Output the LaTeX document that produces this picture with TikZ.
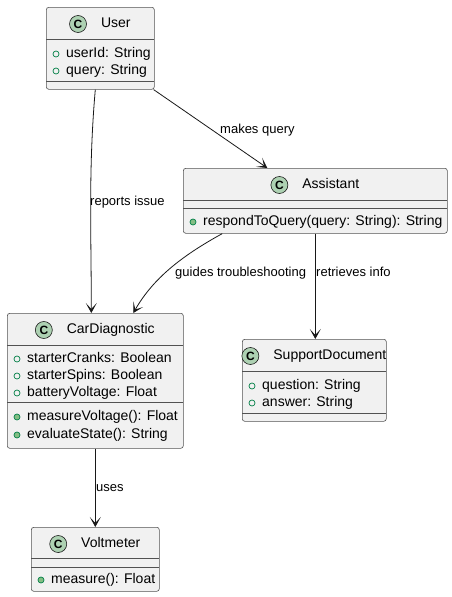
\documentclass[tikz,border=0pt]{standalone}
\usepackage{fontspec}
\setmainfont{Liberation Sans}
\usetikzlibrary{arrows.meta,positioning}
\definecolor{boxfill}{HTML}{F1F1F1}
\definecolor{boxline}{HTML}{181818}
\definecolor{iconfill}{HTML}{ADD1B2}
\definecolor{dotline}{HTML}{038048}
\definecolor{dotfill}{HTML}{84BE84}
\begin{document}
\begin{tikzpicture} [x=1pt, y=-1pt,
  classbox/.style={draw=boxline!75, fill=boxfill, rounded corners=2.5pt,
    line width=0.6pt, inner sep=0pt, anchor=north west},
  sepline/.style={draw=boxline!75, line width=0.6pt},
  cicon/.style={circle, draw=boxline, fill=iconfill, line width=0.6pt,
    minimum size=17pt, inner sep=0pt, font=\bfseries\fontsize{12}{12}\selectfont},
  cname/.style={inner sep=0pt, font=\fontsize{14}{16}\selectfont,
    text height=10pt, text depth=3pt},
  member/.style={inner sep=0pt, anchor=west, font=\fontsize{14}{16}\selectfont,
    text height=10pt, text depth=3pt},
  attrdot/.style={circle, draw=dotline, line width=0.7pt, minimum size=6pt, inner sep=0pt},
  methdot/.style={attrdot, fill=dotfill},
  lbl/.style={inner sep=0pt, anchor=west, font=\fontsize{13}{15}\selectfont,
    text height=9pt, text depth=3pt},
  link/.style={draw=boxline, line width=0.8pt,
    -{Stealth[length=10pt, width=11pt, inset=6pt]}}]
\useasboundingbox (0,0) rectangle (452,597);

% User
\node[classbox, minimum width=108pt, minimum height=82pt] (user) at (46,7) {};
\node[cname] (user-n) at ([xshift=15.5pt, yshift=-17pt]user.north) {User};
\node[cicon, left=14pt of user-n] (user-c) {C};
\draw[sepline] (46,39) -- (154,39);
\draw[sepline] (46,81) -- (154,81);
\foreach \t [count=\i] in {userId: String, query: String} {
  \node[attrdot] (user-d\i) at (56,37+17*\i) {};
  \node[member] (user-t\i) at (66,37+17*\i) {\t};
}

% Assistant
\node[classbox, minimum width=264pt, minimum height=65pt] (asst) at (183,168) {};
\node[cname] (asst-n) at ([xshift=15.5pt, yshift=-17pt]asst.north) {Assistant};
\node[cicon, left=14pt of asst-n] (asst-c) {C};
\draw[sepline] (183,200) -- (447,200);
\draw[sepline] (183,208) -- (447,208);
\node[methdot] (asst-d1) at (193,222) {};
\node[member] (asst-t1) at (203,222) {respondToQuery(query: String): String};

% CarDiagnostic
\node[classbox, minimum width=176pt, minimum height=135pt] (diag) at (7,313) {};
\node[cname] (diag-n) at ([xshift=15.5pt, yshift=-17pt]diag.north) {CarDiagnostic};
\node[cicon, left=14pt of diag-n] (diag-c) {C};
\draw[sepline] (7,345) -- (183,345);
\draw[sepline] (7,402) -- (183,402);
\foreach \t [count=\i] in {starterCranks: Boolean, starterSpins: Boolean, batteryVoltage: Float} {
  \node[attrdot] (diag-d\i) at (17,342+17*\i) {};
  \node[member] (diag-t\i) at (27,342+17*\i) {\t};
}
\foreach \t [count=\i] in {measureVoltage(): Float, evaluateState(): String} {
  \node[methdot] (diag-m\i) at (17,399+18*\i) {};
  \node[member] (diag-s\i) at (27,399+18*\i) {\t};
}

% SupportDocument
\node[classbox, minimum width=144pt, minimum height=82pt] (doc) at (242,339) {};
\node[cname] (doc-n) at ([xshift=15.5pt, yshift=-17pt]doc.north) {SupportDocument};
\node[cicon, left=14pt of doc-n] (doc-c) {C};
\draw[sepline] (242,371) -- (386,371);
\draw[sepline] (242,413) -- (386,413);
\foreach \t [count=\i] in {question: String, answer: String} {
  \node[attrdot] (doc-d\i) at (252,369+17*\i) {};
  \node[member] (doc-t\i) at (262,369+17*\i) {\t};
}

% Voltmeter
\node[classbox, minimum width=128pt, minimum height=64pt] (volt) at (31,527) {};
\node[cname] (volt-n) at ([xshift=15.5pt, yshift=-17pt]volt.north) {Voltmeter};
\node[cicon, left=14pt of volt-n] (volt-c) {C};
\draw[sepline] (31,558) -- (159,558);
\draw[sepline] (31,567) -- (159,567);
\node[methdot] (volt-d1) at (41,580) {};
\node[member] (volt-t1) at (51,580) {measure(): Float};

% links
\draw[link] ([xshift=-5pt]user.south) .. controls +(-7,80) and +(0,-80) .. ([xshift=-4pt]diag.north);
\node[lbl] (l-issue) at (90,202) {reports issue};
\draw[link] ([xshift=-1pt]user.south east) -- ([xshift=-48pt]asst.north);
\node[lbl] (l-query) at (220,130) {makes query};
\draw[link] ([xshift=-93pt]asst.south) .. controls +(-40,22) and +(20,-35) .. ([xshift=38pt]diag.north);
\node[lbl] (l-guide) at (175,273) {guides troubleshooting};
\draw[link] (asst.south) -- (asst.south |- doc.north);
\node[lbl] (l-info) at (316,273) {retrieves info};
\draw[link] (diag.south) -- (volt.north);
\node[lbl] (l-uses) at (96,488) {uses};
\end{tikzpicture}
\end{document}
